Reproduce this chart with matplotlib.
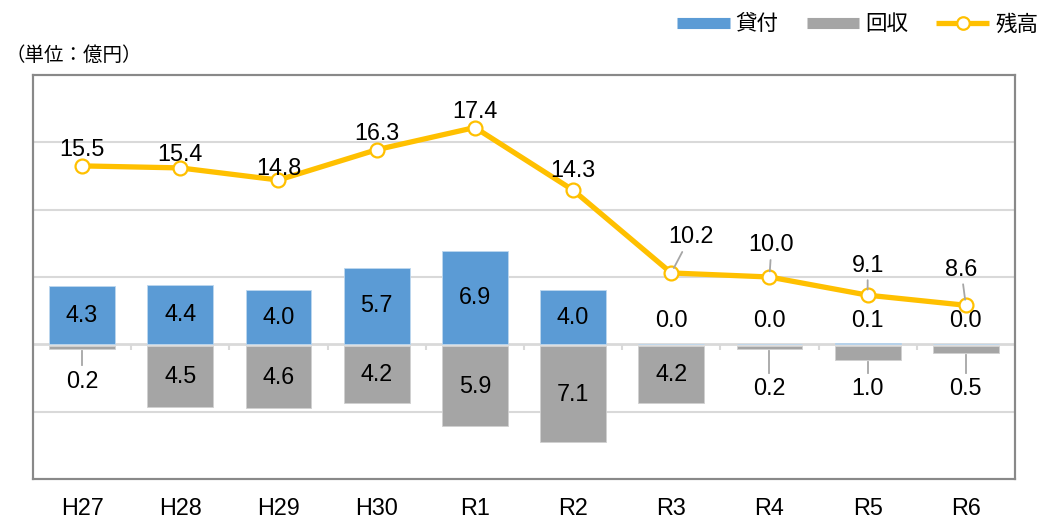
import numpy as np
import matplotlib
matplotlib.use('Agg')
import matplotlib.pyplot as plt
from matplotlib.lines import Line2D

plt.rcParams['font.family'] = ['Liberation Sans', 'Noto Sans CJK JP']

YEARS = ['H27', 'H28', 'H29', 'H30', 'R1', 'R2', 'R3', 'R4', 'R5', 'R6']
LOANS = [4.3, 4.4, 4.0, 5.7, 6.9, 4.0, 0.0, 0.0, 0.1, 0.0]          # 貸付
REPAID = [0.2, 4.5, 4.6, 4.2, 5.9, 7.1, 4.2, 0.2, 1.0, 0.5]         # 回収
BALANCE = [15.5, 15.4, 14.8, 16.3, 17.4, 14.3, 10.2, 10.0, 9.1, 8.6]  # 残高

BLUE = '#5B9BD5'
GRAY = '#A5A5A5'
GOLD = '#FFC000'
GRID = '#D9D9D9'
LEADER = '#A6A6A6'

x = np.arange(len(YEARS))

fig = plt.figure(figsize=(10.43, 5.19), dpi=100)
ax = fig.add_axes([0.0316, 0.0771, 0.9415, 0.7784])
ax2 = ax.twinx()

ax.set_xlim(-0.5, len(YEARS) - 0.5)
ax.set_ylim(-10, 20)
ax2.set_ylim(0, 20)

for y in (-5, 5, 10, 15):
    ax.axhline(y, color=GRID, lw=1.5, zorder=0)
ax.axhline(0, color=GRID, lw=2, zorder=1)
ax.vlines(x[:-1] + 0.5, -0.45, 0, color=GRID, lw=1.5, zorder=1)

ax.bar(x, LOANS, width=0.67, color=BLUE, edgecolor='#BDD7EE', lw=0.6, zorder=2)
ax.bar(x, [-v for v in REPAID], width=0.67, color=GRAY, edgecolor='#D0D0D0',
       lw=0.6, bottom=-0.15, zorder=2)

ax2.plot(x, BALANCE, color=GOLD, lw=3.8, marker='o', ms=10,
         mfc='white', mec=GOLD, mew=1.6, zorder=3)

fs = 16.8
# bar labels
for i, v in enumerate(LOANS):
    if v >= 1:
        ax.text(i, v / 2, f'{v:.1f}', ha='center', va='center', fontsize=fs, zorder=4)
    else:
        ax.text(i, 1.8, f'{v:.1f}', ha='center', va='center', fontsize=fs, zorder=4)
for i, v in enumerate(REPAID):
    if v >= 2:
        ax.text(i, -v / 2 - 0.15, f'{v:.1f}', ha='center', va='center', fontsize=fs, zorder=4)
    else:
        ytxt = -2.75 if i == 0 else -3.3
        ax.text(i, ytxt, f'{v:.1f}', ha='center', va='center', fontsize=fs, zorder=4)
        ax.plot([i, i], [-v - 0.3, ytxt + 1.2], color=LEADER, lw=1.3, zorder=3)

# balance labels: pixel offsets from the marker
offsets = [(0, 16), (0, 13), (0, 12), (0, 16), (0, 16), (0, 20),
           (20, 36), (2, 32), (0, 30), (-5, 36)]
for i, v in enumerate(BALANCE):
    dx, dy = offsets[i]
    ax2.annotate(f'{v:.1f}', (i, v), xytext=(dx, dy), textcoords='offset pixels',
                 ha='center', va='center', fontsize=fs, zorder=5)
    if i >= 6:
        ax2.annotate('', (i, v), xytext=(dx * 0.55, dy - 15), textcoords='offset pixels',
                     arrowprops=dict(arrowstyle='-', color=LEADER, lw=1.3,
                                     shrinkA=0, shrinkB=4))

ax.set_xticks(x)
ax.set_xticklabels(YEARS, fontsize=fs)
ax.tick_params(axis='x', length=0, pad=13)
ax.set_yticks([])
ax2.set_yticks([])
for a in (ax, ax2):
    for s in a.spines.values():
        s.set_color('#898989')
        s.set_linewidth(1.5)

fig.text(0.005, 0.893, '（単位：億円）', fontsize=14, va='center', ha='left')

handles = [Line2D([], [], color=BLUE, lw=8, solid_capstyle='butt'),
           Line2D([], [], color=GRAY, lw=8, solid_capstyle='butt'),
           Line2D([], [], color=GOLD, lw=3.8, marker='o', ms=9, solid_capstyle='butt',
                  mfc='white', mec=GOLD, mew=1.6)]
fig.legend(handles, ['貸付', '回収', '残高'], loc='center right',
           bbox_to_anchor=(1.014, 0.952), ncol=3, frameon=False, fontsize=15.5,
           handlelength=2.45, handletextpad=0.28, columnspacing=1.3)

plt.savefig('out.png', dpi=100)
